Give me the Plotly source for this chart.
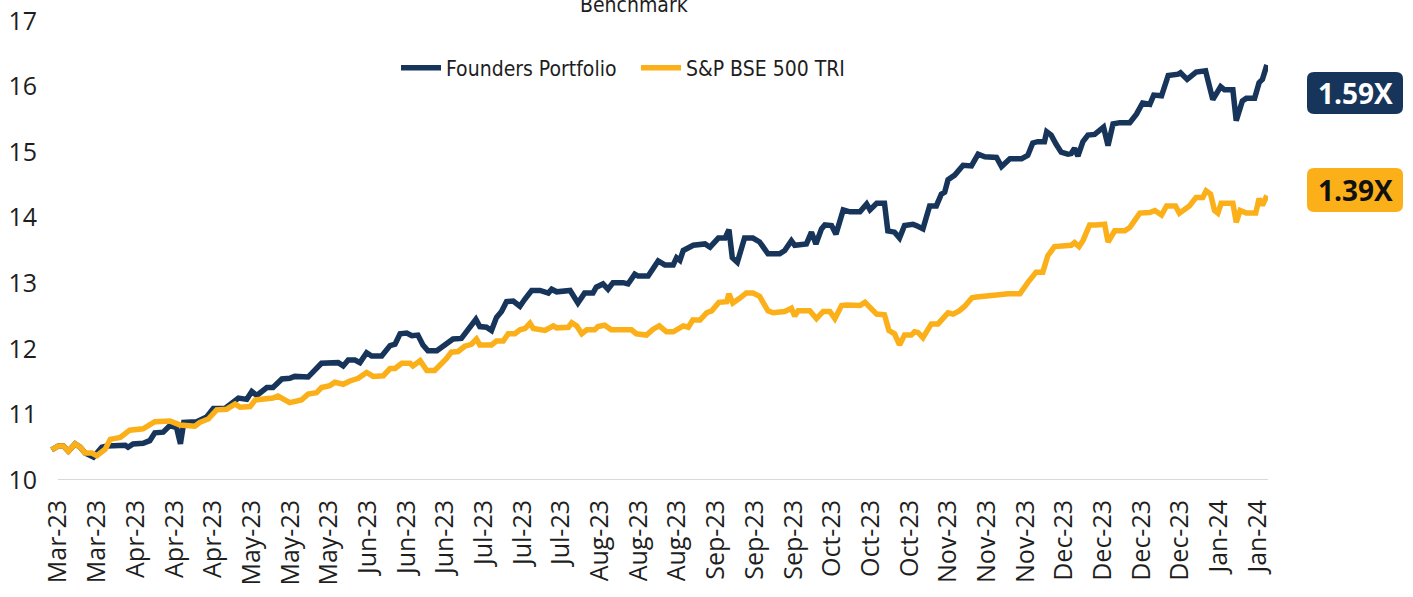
import plotly.graph_objects as go

# ---------------- data (trading-day index, value) ----------------
founders_day = [0.3, 1.5, 2.4, 3.3, 4.5, 5.4, 6.3, 7.8, 9.3, 10.2, 13.5, 14.0, 14.9, 16.7, 17.9, 18.8,
                20.3, 21.5, 22.7, 23.4, 24.0, 26.3, 28.1, 29.3, 31.4, 33.8, 35.3, 36.2, 37.1, 38.9,
                40.0, 41.6, 43.0, 43.9, 46.3, 47.2, 48.7, 51.7, 52.6, 53.5, 54.7, 55.6, 56.8, 57.7,
                59.5, 61.0, 61.9, 62.8, 64.0, 64.9, 66.0, 66.9, 67.8, 69.4, 71.1, 72.3, 73.8, 75.0,
                75.6, 76.4, 77.1, 78.3, 79.2, 80.1, 81.0, 81.9, 83.1, 84.3, 85.2, 86.4, 87.9, 89.4,
                90.0, 90.9, 93.3, 94.7, 95.9, 97.4, 98.0, 99.2, 100.1, 101.0, 102.8, 103.7, 104.9,
                105.5, 107.3, 107.9, 109.1, 110.3, 111.8, 112.4, 113.0, 113.6, 115.4, 117.5, 118.4,
                119.9, 121.1, 121.8, 122.4, 123.3, 124.6, 126.1, 127.3, 128.8, 130.9, 131.8, 133.0,
                133.6, 135.7, 136.6, 137.4, 138.4, 139.0, 140.2, 141.0, 142.3, 143.5, 145.3, 146.5,
                147.1, 148.3, 149.7, 150.3, 151.5, 152.4, 153.3, 154.8, 155.4, 156.6, 157.8, 159.0,
                159.9, 160.5, 161.1, 162.3, 163.8, 165.3, 166.5, 167.7, 169.8, 170.7, 172.2, 174.3,
                175.4, 176.3, 177.2, 178.4, 178.8, 179.6, 180.5, 181.4, 182.6, 183.2, 183.8, 184.4,
                185.3, 186.2, 187.4, 188.3, 189.0, 189.8, 190.7, 191.9, 193.7, 194.9, 196.0, 197.3,
                198.0, 199.4, 200.6, 202.4, 202.8, 204.0, 205.6, 207.3, 208.6, 210.0, 210.7, 212.2,
                212.8, 213.9, 214.6, 216.1, 216.9, 217.5, 218.3]
founders_val = [10.46, 10.52, 10.52, 10.44, 10.55, 10.50, 10.41, 10.35, 10.50, 10.52, 10.53, 10.50, 10.55,
                10.56, 10.60, 10.72, 10.73, 10.83, 10.80, 10.55, 10.88, 10.89, 10.96, 11.09, 11.09,
                11.25, 11.23, 11.35, 11.29, 11.41, 11.41, 11.54, 11.55, 11.58, 11.57, 11.64, 11.78,
                11.79, 11.74, 11.83, 11.83, 11.79, 11.94, 11.89, 11.89, 12.05, 12.07, 12.23, 12.24,
                12.20, 12.21, 12.06, 11.97, 11.97, 12.09, 12.15, 12.16, 12.28, 12.35, 12.45, 12.34,
                12.33, 12.28, 12.48, 12.57, 12.72, 12.73, 12.65, 12.76, 12.89, 12.89, 12.85, 12.91,
                12.87, 12.89, 12.70, 12.85, 12.85, 12.94, 12.99, 12.91, 13.01, 13.01, 12.99, 13.14,
                13.11, 13.11, 13.19, 13.34, 13.28, 13.28, 13.39, 13.35, 13.50, 13.58, 13.60, 13.55,
                13.69, 13.69, 13.82, 13.39, 13.32, 13.69, 13.69, 13.63, 13.45, 13.45, 13.50, 13.65,
                13.58, 13.60, 13.78, 13.60, 13.83, 13.89, 13.88, 13.75, 14.12, 14.09, 14.09, 14.21,
                14.12, 14.22, 14.22, 13.80, 13.78, 13.69, 13.88, 13.90, 13.88, 13.83, 14.18, 14.18,
                14.36, 14.39, 14.58, 14.65, 14.80, 14.79, 14.97, 14.93, 14.92, 14.78, 14.90, 14.90,
                14.95, 15.14, 15.16, 15.16, 15.31, 15.26, 15.12, 15.00, 14.97, 14.98, 15.06, 14.94,
                15.16, 15.26, 15.27, 15.34, 15.38, 15.10, 15.43, 15.45, 15.45, 15.58, 15.75, 15.73,
                15.87, 15.86, 16.17, 16.19, 16.21, 16.11, 16.22, 16.24, 15.80, 16.00, 15.95, 15.95,
                15.48, 15.78, 15.82, 15.82, 16.06, 16.11, 16.33]

bse_day = [0.3, 1.5, 2.4, 3.3, 4.5, 5.4, 6.3, 7.5, 8.4, 9.9, 10.8, 12.6, 14.3, 16.7, 18.8, 21.5, 23.3,
           26.0, 26.9, 28.4, 29.9, 31.7, 33.2, 34.1, 35.9, 36.8, 40.0, 40.9, 43.0, 45.1, 46.3, 47.8,
           48.7, 50.2, 51.1, 52.6, 53.8, 55.3, 56.8, 58.0, 59.8, 61.0, 61.9, 63.1, 64.6, 65.1, 66.4,
           67.6, 69.0, 69.9, 71.1, 72.0, 73.2, 74.4, 75.6, 76.5, 77.1, 79.2, 80.1, 81.3, 82.2, 83.4,
           84.3, 85.2, 86.1, 86.7, 87.9, 88.8, 90.3, 90.9, 93.0, 93.6, 94.5, 95.4, 96.3, 97.7, 98.3,
           99.5, 100.7, 102.5, 104.3, 105.2, 107.0, 108.2, 109.3, 110.6, 111.8, 113.6, 114.5, 115.3,
           116.6, 117.8, 118.7, 120.0, 121.4, 121.8, 122.5, 123.7, 124.9, 126.1, 127.3, 128.8,
           129.7, 131.8, 133.0, 133.6, 134.2, 136.3, 137.5, 138.7, 139.9, 140.8, 142.0, 142.9,
           145.3, 146.2, 147.1, 148.3, 149.7, 150.5, 151.5, 152.4, 153.3, 154.5, 155.1, 155.7,
           156.6, 158.1, 159.3, 160.2, 161.1, 162.0, 163.1, 164.1, 165.4, 166.2, 168.6, 169.8,
           171.9, 174.0, 175.4, 176.9, 178.1, 179.0, 180.2, 181.7, 183.2, 183.8, 184.6, 185.3,
           186.5, 187.7, 189.2, 189.8, 191.0, 192.8, 193.7, 195.5, 197.3, 198.2, 199.4, 200.3,
           201.9, 202.6, 204.4, 205.6, 206.8, 207.4, 208.2, 208.9, 209.5, 210.1, 212.2, 212.8,
           213.5, 214.6, 216.3, 216.9, 217.5, 218.3]
bse_val = [10.46, 10.52, 10.52, 10.44, 10.55, 10.50, 10.41, 10.41, 10.37, 10.47, 10.62, 10.65, 10.76,
           10.78, 10.89, 10.90, 10.84, 10.82, 10.88, 10.93, 11.07, 11.08, 11.16, 11.11, 11.12, 11.22,
           11.25, 11.28, 11.18, 11.22, 11.31, 11.33, 11.41, 11.44, 11.49, 11.46, 11.51, 11.55, 11.64,
           11.58, 11.59, 11.70, 11.70, 11.78, 11.78, 11.74, 11.82, 11.67, 11.67, 11.74, 11.85, 11.95,
           11.96, 12.04, 12.07, 12.15, 12.06, 12.06, 12.12, 12.12, 12.23, 12.23, 12.29, 12.31, 12.39,
           12.31, 12.30, 12.28, 12.35, 12.32, 12.33, 12.40, 12.35, 12.23, 12.29, 12.29, 12.34, 12.36,
           12.29, 12.28, 12.29, 12.23, 12.21, 12.30, 12.35, 12.26, 12.26, 12.35, 12.33, 12.44, 12.44,
           12.55, 12.58, 12.71, 12.72, 12.84, 12.70, 12.77, 12.85, 12.85, 12.80, 12.58, 12.55, 12.57,
           12.62, 12.50, 12.58, 12.58, 12.46, 12.57, 12.57, 12.46, 12.66, 12.67, 12.66, 12.71, 12.62,
           12.53, 12.52, 12.28, 12.23, 12.06, 12.21, 12.21, 12.26, 12.25, 12.17, 12.38, 12.38, 12.48,
           12.55, 12.53, 12.58, 12.65, 12.78, 12.79, 12.80, 12.82, 12.84, 12.84, 13.01, 13.17, 13.17,
           13.42, 13.56, 13.58, 13.58, 13.62, 13.56, 13.65, 13.89, 13.89, 13.90, 13.63, 13.80, 13.80,
           13.85, 14.07, 14.08, 14.11, 14.04, 14.18, 14.18, 14.07, 14.18, 14.31, 14.31, 14.41, 14.36,
           14.11, 14.07, 14.22, 14.22, 13.93, 14.11, 14.07, 14.07, 14.29, 14.19, 14.34]

tick_labels = ["Mar-23", "Mar-23", "Apr-23", "Apr-23", "Apr-23", "May-23", "May-23", "May-23",
               "Jun-23", "Jun-23", "Jun-23", "Jul-23", "Jul-23", "Jul-23", "Aug-23", "Aug-23",
               "Aug-23", "Sep-23", "Sep-23", "Sep-23", "Oct-23", "Oct-23", "Oct-23", "Nov-23",
               "Nov-23", "Nov-23", "Dec-23", "Dec-23", "Dec-23", "Dec-23", "Jan-24", "Jan-24"]
y_ticks = [10, 11, 12, 13, 14, 15, 16, 17]

series_names = ["Founders Portfolio", "S&P BSE 500 TRI"]
multiples = ["1.59X", "1.39X"]

NAVY = "#17355a"
GOLD = "#FBB01A"
TEXT = "#1e1e1e"
NARROW = "Liberation Sans Narrow, DejaVu Sans Condensed, Roboto, sans-serif"

# ---------------- layout geometry (pixels) ----------------
W, H = 1413, 597
L, R, T, B = 50, 145, 21, 117
PW, PH = W - L - R, H - T - B
X_RANGE = [0, 218.5]


def px_x(px):
    return (px - L) / PW


def px_y(py):
    return (H - B - py) / PH


fig = go.Figure()
fig.add_trace(go.Scatter(x=founders_day, y=founders_val, mode="lines", name=series_names[0],
                         line=dict(color=NAVY, width=5.5)))
fig.add_trace(go.Scatter(x=bse_day, y=bse_val, mode="lines", name=series_names[1],
                         line=dict(color=GOLD, width=5.5)))

tickvals = [1.5 + 6.94 * k for k in range(len(tick_labels))]

fig.update_layout(
    width=W, height=H,
    margin=dict(l=L, r=R, t=T, b=B, pad=0, autoexpand=False),
    paper_bgcolor="white", plot_bgcolor="white",
    showlegend=True,
    legend=dict(orientation="h", x=px_x(396), xanchor="left", y=px_y(68), yanchor="middle",
                font=dict(family=NARROW, size=21, color=TEXT),
                entrywidth=185, entrywidthmode="pixels",
                bgcolor="rgba(0,0,0,0)", itemwidth=40),
    xaxis=dict(range=X_RANGE, tickmode="array", tickvals=tickvals, ticktext=tick_labels,
               tickangle=-90, showgrid=False, zeroline=False, showline=False, ticks="",
               automargin=False,
               tickfont=dict(family="Open Sans", size=25, color=TEXT), ticklabelstandoff=14),
    yaxis=dict(range=[10, 17], tickmode="array", tickvals=y_ticks, showgrid=False,
               zeroline=False, showline=False, ticks="", automargin=False,
               tickfont=dict(family="Open Sans", size=25, color=TEXT), ticklabelstandoff=12),
)

# baseline at 10
fig.add_shape(type="line", xref="x", yref="y", x0=1.4, x1=X_RANGE[1], y0=10, y1=10,
              line=dict(color="#d9d9d9", width=2), layer="below")

# title partially cut off at the top edge (as in the reference)
fig.add_annotation(text="Benchmark", xref="paper", yref="paper", x=px_x(634), y=px_y(5),
                   xanchor="center", yanchor="middle", showarrow=False,
                   font=dict(family=NARROW, size=21, color=TEXT))


def rounded_box(x0, y0, x1, y1, r):
    # pixel box -> paper path with rounded corners
    def P(x, y):
        return f"{px_x(x):.5f},{px_y(y):.5f}"
    return (f"M {P(x0 + r, y0)} L {P(x1 - r, y0)} Q {P(x1, y0)} {P(x1, y0 + r)} "
            f"L {P(x1, y1 - r)} Q {P(x1, y1)} {P(x1 - r, y1)} L {P(x0 + r, y1)} "
            f"Q {P(x0, y1)} {P(x0, y1 - r)} L {P(x0, y0 + r)} Q {P(x0, y0)} {P(x0 + r, y0)} Z")


boxes = [(1307, 72, 1403, 114, NAVY, "white"), (1307, 168, 1403, 212, GOLD, "#111111")]
for (bx0, by0, bx1, by1, fill, fc), label in zip(boxes, multiples):
    fig.add_shape(type="path", xref="paper", yref="paper", path=rounded_box(bx0, by0, bx1, by1, 7),
                  fillcolor=fill, line=dict(width=0))
    fig.add_annotation(text=f"<b>{label}</b>", xref="paper", yref="paper",
                       x=px_x((bx0 + bx1) / 2), y=px_y((by0 + by1) / 2),
                       xanchor="center", yanchor="middle", showarrow=False,
                       font=dict(family="Open Sans", size=28, color=fc))

fig.write_html("out.html")
